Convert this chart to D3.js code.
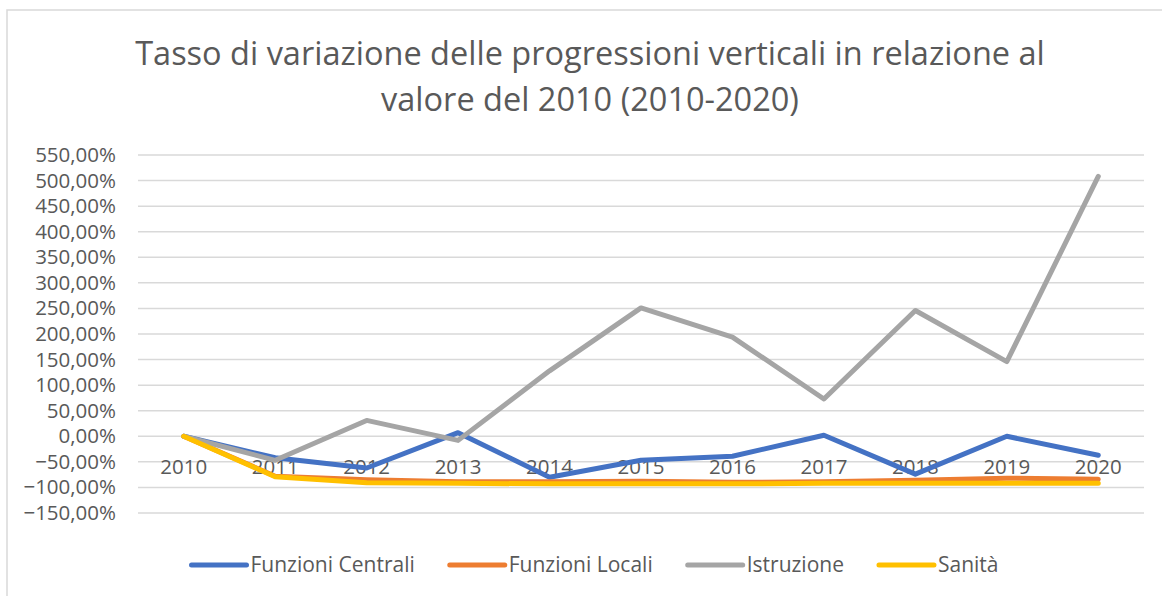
<!DOCTYPE html>
<html>
<head>
<meta charset="utf-8">
<script src="https://cdn.jsdelivr.net/npm/d3@7"></script>
<style>
  body { margin: 0; background: #fff; }
  svg { display: block; font-family: "Open Sans", sans-serif; }
</style>
</head>
<body>
<div id="chart"></div>
<script>
// data (% change vs 2010)
const years = ["2010", "2011", "2012", "2013", "2014", "2015", "2016", "2017", "2018", "2019", "2020"]
const funzioniCentrali = [0, -42, -62, 7, -80, -47, -39, 2, -74, 0, -37]
const funzioniLocali = [0, -78, -85, -89, -89, -88, -90, -89, -86, -82, -84]
const istruzione = [0, -47, 31, -8, 128, 251, 194, 73, 246, 146, 508]
const sanita = [0, -79, -91, -92, -93, -93, -93, -92, -92, -92, -92]
const yTicks = [550, 500, 450, 400, 350, 300, 250, 200, 150, 100, 50, 0, -50, -100, -150]
const seriesNames = ["Funzioni Centrali", "Funzioni Locali", "Istruzione", "Sanità"]
const seriesColors = ["#4472C4", "#ED7D31", "#A5A5A5", "#FFC000"]
const titleLines = ["Tasso di variazione delle progressioni verticali in relazione al", "valore del 2010 (2010-2020)"]

const width = 1162
const height = 596
const margins = {top: 155, right: 18, bottom: 83, left: 138}

const svg = d3.select("#chart")
  .append("svg")
  .attr("width", width)
  .attr("height", height)

// chart area border
svg.append("rect")
  .attr("x", 7)
  .attr("y", 10)
  .attr("width", width + 20)
  .attr("height", height + 20)
  .attr("fill", "none")
  .attr("stroke", "#d9d9d9")
  .attr("stroke-width", 1.5)

// title
svg.append("g")
  .selectAll("text")
  .data(titleLines)
  .enter().append("text")
    .attr("x", 590)
    .attr("y", (d, i) => 65 + i * 46)
    .attr("text-anchor", "middle")
    .attr("fill", "#595959")
    .style("font-size", "32.5px")
    .text(d => d)

// scales
const xScale = d3.scaleBand()
  .domain(years)
  .range([margins.left, width - margins.right])

const yScale = d3.scaleLinear()
  .domain([-150, 550])
  .range([height - margins.bottom, margins.top])

const fmt = v => d3.format(".2f")(v).replace(".", ",") + "%"

// gridlines
svg.append("g")
  .selectAll("line")
  .data(yTicks)
  .enter().append("line")
    .attr("x1", margins.left)
    .attr("x2", width - margins.right)
    .attr("y1", d => yScale(d))
    .attr("y2", d => yScale(d))
    .attr("stroke", "#d9d9d9")
    .attr("stroke-width", 1.5)

// y axis labels
const yAxis = svg.append("g")
  .attr("transform", `translate(${margins.left - 22}, 0)`)
  .call(d3.axisLeft(yScale).tickValues(yTicks).tickFormat(fmt).tickSize(0).tickPadding(0))
yAxis.select(".domain").remove()
yAxis.selectAll("text")
  .attr("fill", "#595959")
  .style("font-family", "Open Sans, sans-serif")
  .style("font-size", "20.5px")

// x axis labels, sitting at zero
const xAxis = svg.append("g")
  .attr("transform", `translate(0, ${yScale(0)})`)
  .call(d3.axisBottom(xScale).tickSize(0).tickPadding(23))
xAxis.select(".domain").remove()
xAxis.selectAll("text")
  .attr("fill", "#595959")
  .style("font-family", "Open Sans, sans-serif")
  .style("font-size", "20.5px")

// lines
const seriesData = [funzioniCentrali, funzioniLocali, istruzione, sanita]
const lineGenerator = d3.line()
  .x((d, i) => xScale(years[i]) + xScale.bandwidth() / 2)
  .y(d => yScale(d))

svg.append("g")
  .selectAll("path")
  .data(seriesData)
  .enter().append("path")
    .attr("d", d => lineGenerator(d))
    .attr("fill", "none")
    .attr("stroke", (d, i) => seriesColors[i])
    .attr("stroke-width", 5)
    .attr("stroke-linejoin", "round")
    .attr("stroke-linecap", "round")

// legend
const legend = svg.append("g")
  .attr("transform", `translate(0, 565)`)
const items = legend.selectAll("g")
  .data(seriesNames)
  .enter().append("g")
items.append("line")
  .attr("x1", 0)
  .attr("x2", 55)
  .attr("stroke", (d, i) => seriesColors[i])
  .attr("stroke-width", 5)
  .attr("stroke-linecap", "round")
items.append("text")
  .attr("x", 59)
  .attr("dy", "0.35em")
  .attr("fill", "#595959")
  .style("font-size", "21px")
  .text(d => d)

const gap = 35
let widths = []
items.each(function() { widths.push(this.getBBox().width) })
const total = d3.sum(widths) + gap * (widths.length - 1)
let cursor = 595 - total / 2
items.each(function(d, i) {
  d3.select(this).attr("transform", `translate(${cursor}, 0)`)
  cursor += widths[i] + gap
})
</script>
</body>
</html>
